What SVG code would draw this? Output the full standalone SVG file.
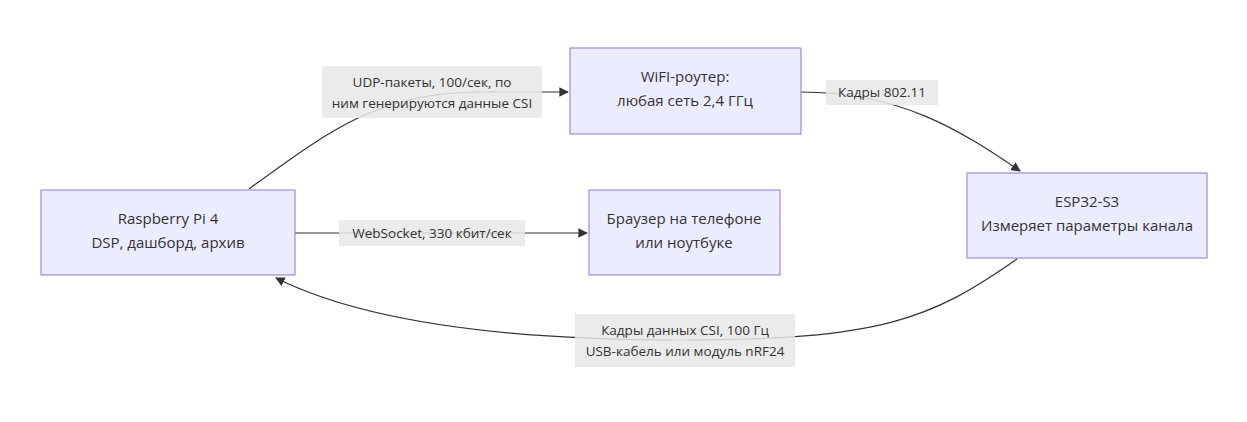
<svg xmlns="http://www.w3.org/2000/svg" width="1247" height="422" viewBox="0 0 1247 422">
<style>
.n{fill:#ECECFF;stroke:#9370DB;stroke-width:1}
.t{font-family:"Open Sans","Liberation Sans",Arial,sans-serif;font-size:15px;fill:#333;text-anchor:middle}
.lt{font-family:"Open Sans","Liberation Sans",Arial,sans-serif;font-size:13.5px;fill:#333;text-anchor:middle}
.lb{fill:#E8E8E8;opacity:0.85}
.e{fill:none;stroke:#333;stroke-width:1.2}
</style>
<defs><marker id="a" viewBox="0 0 10 10" refX="9" refY="5" markerWidth="8" markerHeight="8" orient="auto"><path d="M0,0L10,5L0,10z" fill="#333"/></marker></defs>
<rect width="1247" height="422" fill="#fff"/>
<g id="edges">
<path class="e" d="M249,189 C330,130 380,92 480,92 L568,92" marker-end="url(#a)"/>
<path class="e" d="M801,92 C900,92 960,130 1020,171" marker-end="url(#a)"/>
<path class="e" d="M295,233 L587,233" marker-end="url(#a)"/>
<path class="e" d="M1017,259 C930,320 880,340 680,340 C500,340 360,320 276,278" marker-end="url(#a)"/>
</g>
<g id="labels">
<rect class="lb" x="322" y="66" width="220" height="52"/>
<text class="lt" x="432" y="87">UDP-пакеты, 100/сек, по</text>
<text class="lt" x="432" y="108">ним генерируются данные CSI</text>
<rect class="lb" x="826" y="80" width="112" height="25"/>
<text class="lt" x="882" y="97">Кадры 802.11</text>
<rect class="lb" x="339" y="220" width="186" height="26"/>
<text class="lt" x="432" y="238">WebSocket, 330 кбит/сек</text>
<rect class="lb" x="575" y="314" width="220" height="53"/>
<text class="lt" x="685" y="335">Кадры данных CSI, 100 Гц</text>
<text class="lt" x="685" y="356">USB-кабель или модуль nRF24</text>
</g>
<g id="router"><rect class="n" x="570" y="48" width="231" height="86"/>
<text class="t" x="685" y="82">WiFI-роутер:</text><text class="t" x="685" y="106">любая сеть 2,4 ГГц</text></g>
<g id="pi"><rect class="n" x="41" y="190" width="254" height="85"/>
<text class="t" x="168" y="224">Raspberry Pi 4</text><text class="t" x="168" y="248">DSP, дашборд, архив</text></g>
<g id="browser"><rect class="n" x="589" y="190" width="191" height="85"/>
<text class="t" x="684" y="224">Браузер на телефоне</text><text class="t" x="684" y="248">или ноутбуке</text></g>
<g id="esp"><rect class="n" x="967" y="173" width="240" height="85"/>
<text class="t" x="1087" y="207">ESP32-S3</text><text class="t" x="1087" y="231">Измеряет параметры канала</text></g>
</svg>
